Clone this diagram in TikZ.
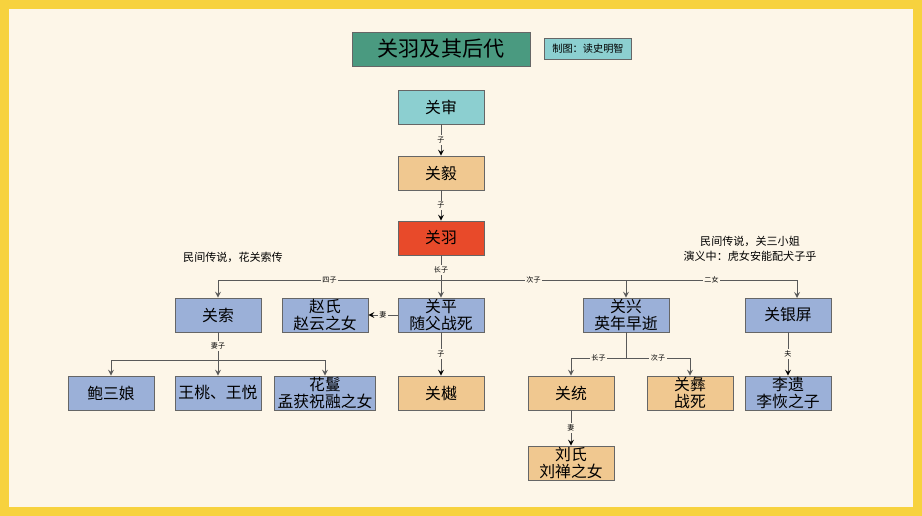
\documentclass[tikz,border=0pt]{standalone}
\usepackage{fontspec}
\setmainfont{Noto Sans CJK SC}
\definecolor{bgcream}{HTML}{FDF6E8}
\definecolor{frameyellow}{HTML}{F7D23E}
\definecolor{titlegreen}{HTML}{4A9A80}
\definecolor{lightcyan}{HTML}{8CCFD0}
\definecolor{peach}{HTML}{F0C890}
\definecolor{redorange}{HTML}{E84A2A}
\definecolor{paleblue}{HTML}{9BB0D8}
\begin{document}
\begin{tikzpicture}[x=0.02cm, y=-0.02cm]
            \tikzstyle{person}=[draw=black!60, inner sep=0pt, minimum width=1.72cm, minimum height=0.68cm, align=center, font=\fontsize{9}{9.5}\selectfont]
            \tikzstyle{linenode}=[fill=bgcream, inner sep=1pt, font=\fontsize{4}{4}\selectfont]
            \tikzstyle{note}=[font=\fontsize{6.3}{8.5}\selectfont, align=center]
            \tikzstyle{link}=[draw=black!65, line width=0.5pt, -stealth]
            % frame
            \fill[frameyellow] (0,0) rectangle (922,516);
            \fill[bgcream] (9,9) rectangle (913,507);
            % title
            \node[person, fill=titlegreen, minimum width=3.56cm, font=\fontsize{12}{13}\selectfont] (title) at (441,49) {关羽及其后代};
            \node[person, fill=lightcyan, minimum width=1.74cm, minimum height=0.42cm, font=\fontsize{5.8}{6}\selectfont] (credit) at (588,49) {制图：读史明智};
            % generations
            \node[person, fill=lightcyan] (shen) at (441,107) {关审};
            \node[person, fill=peach] (yi) at (441,173) {关毅};
            \node[person, fill=redorange] (yu) at (441,238) {关羽};
            \node[person, fill=paleblue] (suo) at (218,315) {关索};
            \node[person, fill=paleblue] (zhao) at (325,315) {赵氏\\赵云之女};
            \node[person, fill=paleblue] (ping) at (441,315) {关平\\随父战死};
            \node[person, fill=paleblue] (xing) at (626,315) {关兴\\英年早逝};
            \node[person, fill=paleblue] (yinping) at (788,315) {关银屏};
            \node[person, fill=paleblue] (bao) at (111,393) {鲍三娘};
            \node[person, fill=paleblue] (wang) at (218,393) {王桃、王悦};
            \node[person, fill=paleblue, minimum width=2.02cm] (huaman) at (325,393) {花鬘\\孟获祝融之女};
            \node[person, fill=peach] (yue) at (441,393) {关樾};
            \node[person, fill=peach] (tong) at (571,393) {关统};
            \node[person, fill=peach] (yi2) at (690,393) {关彝\\战死};
            \node[person, fill=paleblue] (liyi) at (788,393) {李遗\\李恢之子};
            \node[person, fill=peach] (liu) at (571,463) {刘氏\\刘禅之女};
            % notes
            \node[note] (suonote) at (233,257) {民间传说，花关索传};
            \node[note] (yinnote) at (750,249) {民间传说，关三小姐\\演义中：虎女安能配犬子乎};
            % junctions
            \coordinate (yubar) at (441,280);
            \coordinate (suobar) at (218,360);
            \coordinate (xingbar) at (626,358);
            % connectors
            \path [link] (shen) edge node[linenode] {子} (yi);
            \path [link] (yi) edge node[linenode] {子} (yu);
            \draw [draw=black!65, line width=0.5pt] (yu) -- node[linenode, pos=0.6] {长子} (yubar);
            \draw [link] (yubar) -- (ping);
            \draw [link] (yubar) -- node[linenode] {四子} (yubar -| suo) -- (suo);
            \draw [link] (yubar) -- node[linenode, pos=0.5] {次子} (yubar -| xing) -- (xing);
            \draw [link] (yubar -| xing) -- node[linenode] {二女} (797,280) -- (797,298);
            \path [link] (ping) edge node[linenode] {妻} (zhao);
            \path [link] (ping) edge node[linenode] {子} (yue);
            \draw [draw=black!65, line width=0.5pt] (suo) -- node[linenode, pos=0.5] {妻子} (suobar);
            \draw [link] (suobar) -- (wang);
            \draw [link] (suobar) -- (suobar -| bao) -- (bao);
            \draw [link] (suobar) -- (suobar -| huaman) -- (huaman);
            \draw [draw=black!65, line width=0.5pt] (xing) -- (xingbar);
            \draw [link] (xingbar) -- node[linenode] {长子} (xingbar -| tong) -- (tong);
            \draw [link] (xingbar) -- node[linenode] {次子} (xingbar -| yi2) -- (yi2);
            \path [link] (yinping) edge node[linenode] {夫} (liyi);
            \path [link] (tong) edge node[linenode] {妻} (liu);
        \end{tikzpicture}
\end{document}
